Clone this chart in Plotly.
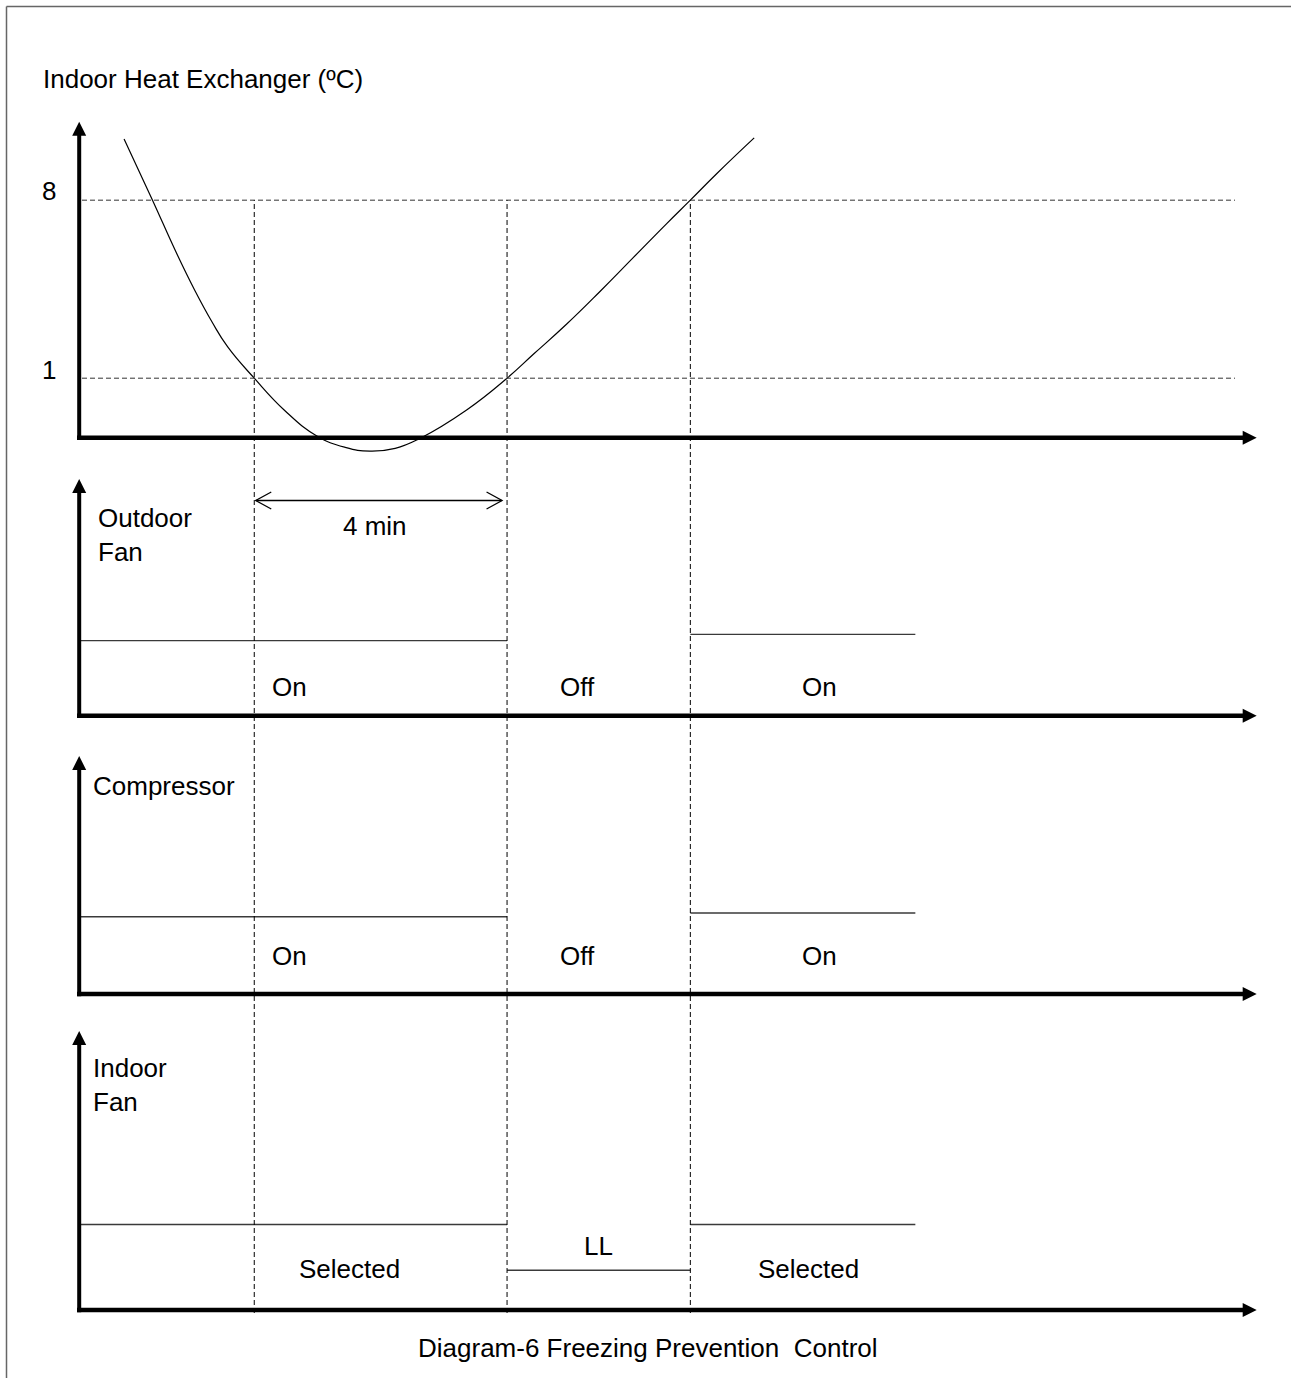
import plotly.graph_objects as go

# ---------------- data ----------------
TIME_MIN = [0.71, 1.16, 1.53, 1.83, 2.10, 2.35, 2.77, 3.26, 3.76, 4.21, 4.60, 5.00,
            5.39, 6.13, 6.77, 7.19, 7.71, 8.24, 8.77, 9.30, 9.67, 10.09, 10.68]
TEMP_C = [10.41, 8.0, 5.97, 4.45, 3.22, 2.23, 1.0, -0.29, -1.27, -1.72, -1.87, -1.76,
          -1.37, -0.25, 1.0, 1.95, 3.12, 4.41, 5.75, 7.09, 8.0, 9.05, 10.45]
THRESHOLDS = [8, 1]
THRESHOLD_LABELS = ["8", "1"]
EVENT_TIMES = [2.77, 6.77, 9.67]          # reach 1 C, +4 min, reach 8 C
SEGMENT_STARTS = [0.0, 6.77, 9.67]
SEGMENT_ENDS = [6.77, 9.67, 13.23]
OUTDOOR_LEVELS = [1.0, None, 1.085]
COMPRESSOR_LEVELS = [1.03, None, 1.08]
INDOOR_LEVELS = [1.14, 0.53, 1.14]
OUTDOOR_LABELS = ["On", "Off", "On"]
COMPRESSOR_LABELS = ["On", "Off", "On"]
INDOOR_LABELS = ["Selected", "LL", "Selected"]
PANEL_TITLES = ["Indoor Heat Exchanger (ºC)", "Outdoor<br>Fan", "Compressor", "Indoor<br>Fan"]
INTERVAL_LABEL = "4 min"
CAPTION = "Diagram-6 Freezing Prevention\u00a0 Control"

# ---------------- layout geometry ----------------
W, H = 1291, 1378
X0_PX = 79.2      # pixel of t = 0
PPM = 63.2        # pixels per minute
FONT = "Liberation Sans, Arial, sans-serif"
FS = 26

PANELS = [
    dict(top=95, bot=465, base=437.7, bval=-1.34, ppu=25.43, tip=121.7),
    dict(top=470, bot=728, base=715.7, bval=0.0, ppu=75.0, tip=479.0),
    dict(top=740, bot=1005, base=994.0, bval=0.0, ppu=75.0, tip=756.0),
    dict(top=1015, bot=1325, base=1310.0, bval=0.0, ppu=75.0, tip=1031.0),
]


def val(i, px):
    p = PANELS[i]
    return p["bval"] + (p["base"] - px) / p["ppu"]


def to_px(i, v):
    p = PANELS[i]
    return p["base"] - (v - p["bval"]) * p["ppu"]


def tx(px):
    return (px - X0_PX) / PPM


def py(px):
    return 1 - px / H


def yref(i):
    return "y" if i == 0 else f"y{i + 1}"


fig = go.Figure()

# temperature curve
fig.add_trace(go.Scatter(x=TIME_MIN, y=TEMP_C, mode="lines", xaxis="x", yaxis="y",
                         line=dict(color="black", width=1.2, shape="spline", smoothing=1.3),
                         hoverinfo="skip", showlegend=False))

# state level lines
for i, levels in zip([1, 2, 3], [OUTDOOR_LEVELS, COMPRESSOR_LEVELS, INDOOR_LEVELS]):
    xs, ys = [], []
    for s, e, lv in zip(SEGMENT_STARTS, SEGMENT_ENDS, levels):
        if lv is None:
            continue
        xs += [s, e, None]
        ys += [lv, lv, None]
    fig.add_trace(go.Scatter(x=xs, y=ys, mode="lines", xaxis="x", yaxis=yref(i),
                             line=dict(color="#3a3a3a", width=1.3),
                             hoverinfo="skip", showlegend=False))

shapes = []
# axes with arrowheads
for i, p in enumerate(PANELS):
    yr = yref(i)
    b = p["bval"]
    shapes.append(dict(type="line", xref="x", yref=yr, x0=tx(77.0), x1=tx(1244),
                       y0=b, y1=b, line=dict(color="black", width=4.5)))
    shapes.append(dict(type="path", xref="x", yref=yr, xsizemode="pixel", ysizemode="pixel",
                       xanchor=tx(1256.7), yanchor=b, path="M0,0 L-14,7 L-14,-7 Z",
                       fillcolor="black", line=dict(width=0)))
    shapes.append(dict(type="line", xref="x", yref=yr, x0=0, x1=0,
                       y0=val(i, p["base"] + 2.2), y1=val(i, p["tip"] + 12),
                       line=dict(color="black", width=4)))
    shapes.append(dict(type="path", xref="x", yref=yr, xsizemode="pixel", ysizemode="pixel",
                       xanchor=0, yanchor=val(i, p["tip"]), path="M0,0 L-7,-14 L7,-14 Z",
                       fillcolor="black", line=dict(width=0)))

# threshold dashed lines
for thr in THRESHOLDS:
    shapes.append(dict(type="line", xref="x", yref="y", x0=tx(82), x1=tx(1235),
                       y0=thr, y1=thr, line=dict(color="#333333", width=1, dash="5px,3px")))

# event dashed verticals (from the 8 C level down to the last axis)
top_px = to_px(0, THRESHOLDS[0])
for t in EVENT_TIMES:
    shapes.append(dict(type="line", xref="x", yref="paper", x0=t, x1=t,
                       y0=py(1313), y1=py(top_px),
                       line=dict(color="black", width=1, dash="5px,3px")))

# 4 min double arrow
ya = val(1, 500.5)
t1, t2 = EVENT_TIMES[0], EVENT_TIMES[1]
shapes.append(dict(type="line", xref="x", yref="y2", x0=t1 + 1.5 / PPM, x1=t2 - 5.5 / PPM,
                   y0=ya, y1=ya, line=dict(color="black", width=1.3)))
shapes.append(dict(type="path", xref="x", yref="y2", xsizemode="pixel", ysizemode="pixel",
                   xanchor=t1, yanchor=ya, path="M17,8.5 L1.5,0 L17,-8.5",
                   fillcolor="rgba(0,0,0,0)", line=dict(color="black", width=1.3)))
shapes.append(dict(type="path", xref="x", yref="y2", xsizemode="pixel", ysizemode="pixel",
                   xanchor=t2, yanchor=ya, path="M-20.5,8.5 L-5,0 L-20.5,-8.5",
                   fillcolor="rgba(0,0,0,0)", line=dict(color="black", width=1.3)))

# outer frame (left and top)
shapes.append(dict(type="line", xref="paper", yref="paper", x0=6.5 / W, x1=6.5 / W,
                   y0=0, y1=py(6.5), line=dict(color="#666666", width=1.5)))
shapes.append(dict(type="line", xref="paper", yref="paper", x0=6.5 / W, x1=1,
                   y0=py(6.5), y1=py(6.5), line=dict(color="#666666", width=1.5)))

# ---------------- text ----------------
ann = []


def label(text, xpx, ypx, xanchor="left"):
    ann.append(dict(text=text, x=xpx / W, y=py(ypx), xref="paper", yref="paper",
                    xanchor=xanchor, yanchor="middle", showarrow=False,
                    font=dict(family=FONT, size=FS, color="black"), align="left"))


label(PANEL_TITLES[0], 41, 79)
label(PANEL_TITLES[1], 96, 535)
label(PANEL_TITLES[2], 90.5, 786)
label(PANEL_TITLES[3], 90.5, 1084.5)
for lab, ypx in zip(THRESHOLD_LABELS, [191, 370]):
    label(lab, 48.5, ypx, "center")
label(INTERVAL_LABEL, 374.5, 526, "center")
for lab, xpx in zip(OUTDOOR_LABELS, [289, 577.5, 819.7]):
    label(lab, xpx, 687, "center")
for lab, xpx in zip(COMPRESSOR_LABELS, [289, 577.5, 819.7]):
    label(lab, xpx, 956, "center")
for lab, xpx, ypx in zip(INDOOR_LABELS, [349.5, 598, 808], [1269, 1246, 1269]):
    label(lab, xpx, ypx, "center")
label(CAPTION, 648, 1347.5, "center")

layout = dict(
    width=W, height=H, margin=dict(l=0, r=0, t=0, b=0),
    paper_bgcolor="white", plot_bgcolor="white", showlegend=False,
    xaxis=dict(domain=[0, 1], range=[tx(0), tx(W)], visible=False, fixedrange=True),
    shapes=shapes, annotations=ann,
)
for i, p in enumerate(PANELS):
    key = "yaxis" if i == 0 else f"yaxis{i + 1}"
    layout[key] = dict(domain=[py(p["bot"]), py(p["top"])],
                       range=[val(i, p["bot"]), val(i, p["top"])],
                       visible=False, fixedrange=True, anchor="x")
fig.update_layout(**layout)

fig.write_html("out.html", config={"displayModeBar": False},
               post_script="document.body.style.margin='0';document.body.style.overflow='hidden';")
